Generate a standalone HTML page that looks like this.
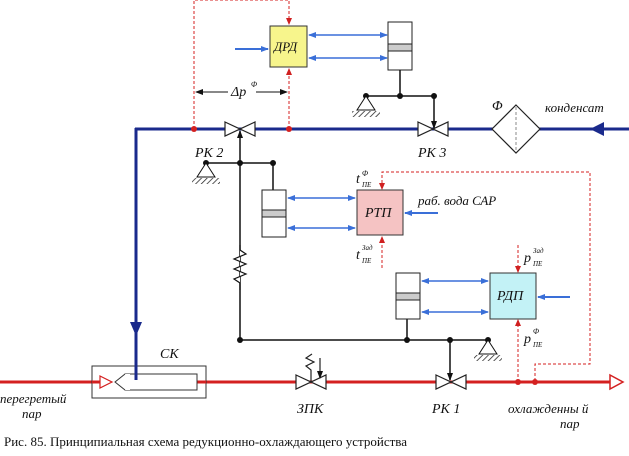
<!DOCTYPE html>
<html><head><meta charset="utf-8"><style>
body{margin:0;background:#fff}
svg{display:block}
text{font-family:"Liberation Serif",serif;font-style:italic;fill:#111}
</style></head><body>
<svg width="629" height="456" viewBox="0 0 629 456" xmlns="http://www.w3.org/2000/svg">
<defs>
<marker id="bl" markerWidth="8" markerHeight="8" refX="7" refY="4" orient="auto-start-reverse" markerUnits="userSpaceOnUse"><path d="M0,1 L8,4 L0,7Z" fill="#3a6fd8"/></marker>
<marker id="rd" markerWidth="7" markerHeight="7" refX="6" refY="3.5" orient="auto" markerUnits="userSpaceOnUse"><path d="M0,0.5 L7,3.5 L0,6.5Z" fill="#d02020"/></marker>
<marker id="bk" markerWidth="8" markerHeight="8" refX="7" refY="4" orient="auto-start-reverse" markerUnits="userSpaceOnUse"><path d="M0,1 L8,4 L0,7Z" fill="#111"/></marker>
<pattern id="hatch" width="4" height="4" patternUnits="userSpaceOnUse" patternTransform="rotate(45)"><line x1="0" y1="0" x2="0" y2="4" stroke="#222" stroke-width="1.5"/></pattern>
</defs>

<!-- blue pipe -->
<line x1="135" y1="129" x2="629" y2="129" stroke="#1a2a8c" stroke-width="3"/>
<line x1="136" y1="128" x2="136" y2="380" stroke="#1a2a8c" stroke-width="3"/>
<path d="M130,322 L142,322 L136,336Z" fill="#1a2a8c"/>
<path d="M590,129 L604,122 L604,136Z" fill="#1a2a8c"/>

<!-- red pipe -->
<line x1="0" y1="382" x2="610" y2="382" stroke="#d42020" stroke-width="3"/>
<path d="M610,375 L623,382 L610,389Z" fill="#fff" stroke="#d42020" stroke-width="1.5"/>

<!-- SK box -->
<rect x="92" y="366" width="114" height="32" fill="#fff" stroke="#333" stroke-width="1"/>
<line x1="92" y1="382" x2="206" y2="382" stroke="#d42020" stroke-width="3"/>
<rect x="125" y="374" width="72" height="16" fill="#fff" stroke="#333" stroke-width="1"/>
<rect x="100" y="374" width="30" height="16" fill="#fff" stroke="none"/>
<path d="M125,374 L115,382 L125,390" fill="none" stroke="#333"/>
<path d="M100,376 L112,382 L100,388Z" fill="#fff" stroke="#d42020" stroke-width="1.2"/>
<line x1="136" y1="336" x2="136" y2="380" stroke="#1a2a8c" stroke-width="3"/>
<text x="160" y="358" font-size="14">СК</text>

<!-- valves -->
<g fill="#fff" stroke="#222" stroke-width="1.2">
<path d="M225,122 L255,136 L255,122 L225,136Z"/>
<path d="M418,122 L448,136 L448,122 L418,136Z"/>
<path d="M296,375 L326,389 L326,375 L296,389Z"/>
<path d="M436,375 L466,389 L466,375 L436,389Z"/>
<path d="M516,105 L540,129 L516,153 L492,129Z"/>
</g>
<line x1="516" y1="107" x2="516" y2="151" stroke="#888" stroke-dasharray="3,2"/>
<!-- ZPK spring -->
<path d="M311,382 L311,370 L306,366 L314,362 L306,358 L312,354" fill="none" stroke="#222" stroke-width="1.2"/>
<line x1="320" y1="358" x2="320" y2="378" stroke="#222" stroke-width="1.2" marker-end="url(#bk)"/>

<!-- DRD -->
<rect x="270" y="26" width="37" height="41" fill="#f7f58c" stroke="#333"/>
<text x="274" y="51" font-size="13">ДРД</text>
<line x1="235" y1="49" x2="268" y2="49" stroke="#3a6fd8" stroke-width="2" marker-end="url(#bl)"/>
<line x1="309" y1="35" x2="387" y2="35" stroke="#3a6fd8" stroke-width="1.5" marker-start="url(#bl)" marker-end="url(#bl)"/>
<line x1="309" y1="58" x2="387" y2="58" stroke="#3a6fd8" stroke-width="1.5" marker-start="url(#bl)" marker-end="url(#bl)"/>
<rect x="388" y="22" width="24" height="48" fill="#fff" stroke="#222"/>
<rect x="388" y="44" width="24" height="7" fill="#ccc" stroke="#222"/>
<g stroke="#111" stroke-width="1.5" fill="none">
<line x1="400" y1="70" x2="400" y2="96"/>
<line x1="366" y1="96" x2="434" y2="96"/>
</g>
<line x1="434" y1="96" x2="434" y2="128" stroke="#111" stroke-width="1.5" marker-end="url(#bk)"/>
<g fill="#111"><circle cx="366" cy="96" r="3"/><circle cx="400" cy="96" r="3"/><circle cx="434" cy="96" r="3"/></g>
<path d="M366,96 L357,110 L375,110Z" fill="#fff" stroke="#111"/>
<rect x="352" y="111" width="28" height="6" fill="url(#hatch)"/>

<!-- dashed DRD -->
<g stroke="#d42020" stroke-width="1" stroke-dasharray="3,2" fill="none">
<path d="M194,129 L194,0 L289,0 L289,24"/>
<path d="M289,129 L289,69"/>
</g>
<path d="M286,18 L292,18 L289,25Z" fill="#d02020"/>
<path d="M286,75 L292,75 L289,68Z" fill="#d02020"/>
<circle cx="194" cy="129" r="3" fill="#d42020"/><circle cx="289" cy="129" r="3" fill="#d42020"/>
<line x1="196" y1="92" x2="228" y2="92" stroke="#111" marker-start="url(#bk)"/>
<line x1="256" y1="92" x2="287" y2="92" stroke="#111" marker-end="url(#bk)"/>
<text x="231" y="96" font-size="14">Δp</text><text x="251" y="87" font-size="8">Φ</text>

<text x="492" y="110" font-size="14">Φ</text>
<text x="545" y="112" font-size="13">конденсат</text>
<text x="195" y="157" font-size="14">РК 2</text>
<text x="418" y="157" font-size="14">РК 3</text>

<!-- RK2 linkage -->
<g stroke="#111" stroke-width="1.5" fill="none">
<line x1="240" y1="164" x2="240" y2="340"/>
<line x1="206" y1="163" x2="273" y2="163"/>
<line x1="273" y1="163" x2="273" y2="190"/>
<line x1="240" y1="340" x2="488" y2="340"/>
<line x1="407" y1="318" x2="407" y2="340"/>
</g>
<line x1="240" y1="163" x2="240" y2="131" stroke="#111" stroke-width="1.5" marker-end="url(#bk)"/>
<line x1="450" y1="340" x2="450" y2="380" stroke="#111" stroke-width="1.5" marker-end="url(#bk)"/>
<path d="M240,245 L240,250 L246,254 L234,259 L246,264 L234,269 L246,274 L234,279 L240,283 L240,290" fill="#fff" stroke="#111" stroke-width="1.2"/>
<g fill="#111"><circle cx="206" cy="163" r="3"/><circle cx="240" cy="163" r="3"/><circle cx="273" cy="163" r="3"/>
<circle cx="240" cy="340" r="3"/><circle cx="407" cy="340" r="3"/><circle cx="450" cy="340" r="3"/><circle cx="488" cy="340" r="3"/></g>
<path d="M206,163 L197,177 L215,177Z" fill="#fff" stroke="#111"/>
<rect x="192" y="178" width="28" height="6" fill="url(#hatch)"/>
<path d="M488,340 L479,354 L497,354Z" fill="#fff" stroke="#111"/>
<rect x="474" y="355" width="28" height="6" fill="url(#hatch)"/>

<!-- RTP -->
<rect x="262" y="190" width="24" height="47" fill="#fff" stroke="#222"/>
<rect x="262" y="210" width="24" height="7" fill="#ccc" stroke="#222"/>
<rect x="357" y="190" width="46" height="45" fill="#f5c3c3" stroke="#333"/>
<text x="365" y="217" font-size="14">РТП</text>
<line x1="288" y1="198" x2="355" y2="198" stroke="#3a6fd8" stroke-width="1.5" marker-start="url(#bl)" marker-end="url(#bl)"/>
<line x1="288" y1="228" x2="355" y2="228" stroke="#3a6fd8" stroke-width="1.5" marker-start="url(#bl)" marker-end="url(#bl)"/>
<line x1="438" y1="213" x2="405" y2="213" stroke="#3a6fd8" stroke-width="2" marker-end="url(#bl)"/>
<text x="418" y="205" font-size="13">раб. вода САР</text>
<text x="356" y="183" font-size="14">t</text><text x="362" y="176" font-size="8">Φ</text><text x="362" y="187" font-size="7">ПЕ</text>
<text x="356" y="259" font-size="14">t</text><text x="362" y="250" font-size="7">Зад</text><text x="362" y="263" font-size="7">ПЕ</text>

<!-- RDP -->
<rect x="396" y="273" width="24" height="46" fill="#fff" stroke="#222"/>
<rect x="396" y="293" width="24" height="7" fill="#ccc" stroke="#222"/>
<rect x="490" y="273" width="46" height="46" fill="#c3f2f6" stroke="#333"/>
<text x="497" y="300" font-size="14">РДП</text>
<line x1="422" y1="281" x2="488" y2="281" stroke="#3a6fd8" stroke-width="1.5" marker-start="url(#bl)" marker-end="url(#bl)"/>
<line x1="422" y1="312" x2="488" y2="312" stroke="#3a6fd8" stroke-width="1.5" marker-start="url(#bl)" marker-end="url(#bl)"/>
<line x1="570" y1="297" x2="538" y2="297" stroke="#3a6fd8" stroke-width="2" marker-end="url(#bl)"/>
<text x="524" y="262" font-size="14">p</text><text x="533" y="253" font-size="7">Зад</text><text x="533" y="266" font-size="7">ПЕ</text>
<text x="524" y="343" font-size="14">p</text><text x="533" y="334" font-size="8">Φ</text><text x="533" y="347" font-size="7">ПЕ</text>

<!-- dashed RTP/RDP -->
<g stroke="#d42020" stroke-width="1" stroke-dasharray="3,2" fill="none">
<path d="M382,188 L382,172 L590,172 L590,364 L535,364 L535,382"/>
<path d="M382,268 L382,240"/>
<path d="M518,382 L518,324"/>
<path d="M518,245 L518,270"/>
</g>
<path d="M379,183 L385,183 L382,190Z" fill="#d02020"/>
<path d="M379,243 L385,243 L382,236Z" fill="#d02020"/>
<path d="M515,266 L521,266 L518,273Z" fill="#d02020"/>
<path d="M515,326 L521,326 L518,319Z" fill="#d02020"/>
<circle cx="518" cy="382" r="3" fill="#d42020"/><circle cx="535" cy="382" r="3" fill="#d42020"/>

<text x="297" y="413" font-size="14">ЗПК</text>
<text x="432" y="413" font-size="14">РК 1</text>
<text x="0" y="403" font-size="13">перегретый</text>
<text x="22" y="418" font-size="13">пар</text>
<text x="508" y="413" font-size="13">охлажденны й</text>
<text x="560" y="428" font-size="13">пар</text>
<text x="4" y="446" font-size="13" style="font-style:normal">Рис. 85. Принципиальная схема редукционно-охлаждающего устройства</text>
</svg>
</body></html>
